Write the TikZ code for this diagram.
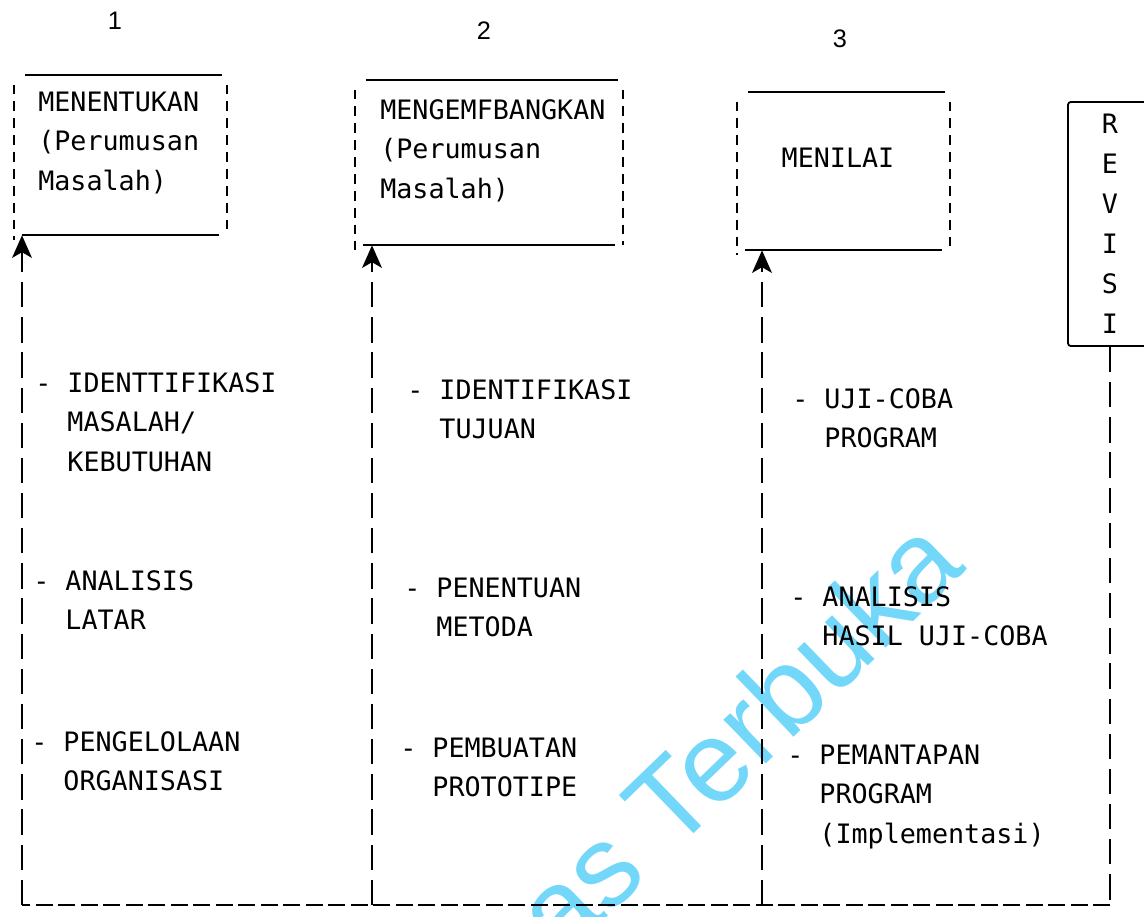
\documentclass[tikz,border=0pt]{standalone}
\usepackage{fontspec}
\setmonofont{DejaVu Sans Mono}
\newfontfamily\digitfont{Liberation Sans}
\usetikzlibrary{arrows.meta}
\definecolor{wmblue}{RGB}{115,215,250}
\newcommand{\subline}{\hphantom{-~}}

\begin{document}
\begin{tikzpicture}[x=0.025cm, y=-0.025cm,
    frame/.style={rectangle, inner sep=0pt},
    edge/.style={line width=1.2pt},
    side/.style={line width=1.5pt, dash pattern=on 7pt off 5pt},
    txt/.style={inner sep=0pt, align=left, font=\ttfamily\fontsize{19}{28}\selectfont},
    num/.style={inner sep=0pt, font=\digitfont\fontsize{18}{20}\selectfont},
    revbox/.style={draw, line width=1.3pt, rounded corners=2pt, minimum width=2.1cm, minimum height=6.1cm, align=center, font=\ttfamily\fontsize{19}{28.5}\selectfont},
    wm/.style={anchor=base, rotate=44, inner sep=0pt, text=wmblue, font=\digitfont\fontsize{82}{84}\selectfont},
    feed/.style={line width=1.9pt, dash pattern=on 18pt off 7pt},
    feedbase/.style={line width=1.5pt, dash pattern=on 12pt off 4pt},
    arrow/.style={feed, -{Stealth[length=16pt,width=14pt,inset=4pt]}}
]
\useasboundingbox (0,0) rectangle (1144,916);

% watermark behind everything
\node[wm] (wmark) at (765,765) {as Terbuka};

% step numbers
\node[num] (n1) at (115,21) {1};
\node[num] (n2) at (484,31) {2};
\node[num] (n3) at (840,39) {3};

% the three steps
\node[frame, minimum width=5.325cm, minimum height=4cm] (box1) at (120.5,155) {};
\node[frame, minimum width=6.7cm, minimum height=4.125cm] (box2) at (489,162.5) {};
\node[frame, minimum width=5.325cm, minimum height=3.95cm] (box3) at (843.5,171) {};

\foreach \b in {box1,box2,box3} {
  \draw[edge] ([xshift=8pt]\b.north west) -- ([xshift=-4pt]\b.north east);
  \draw[edge] ([xshift=6pt]\b.south west) -- ([xshift=-6pt]\b.south east);
  \draw[side] ([yshift=-7pt]\b.north west) -- ([yshift=-3pt]\b.south west);
  \draw[side] ([yshift=-7pt]\b.north east) -- (\b.south east);
}

\node[txt, anchor=base west] (t1) at (38,190) {MENENTUKAN\\(Perumusan\\Masalah)};
\node[txt, anchor=base west] (t2) at (380,198) {MENGEMFBANGKAN\\(Perumusan\\Masalah)};
\node[txt, anchor=base] (t3) at (838,167) {MENILAI};

\node[revbox] (revisi) at (1110,224) {R\\E\\V\\I\\S\\I};

% activities
\node[txt, anchor=base west] (i11) at (35,471) {-~IDENTTIFIKASI\\\subline MASALAH/\\\subline KEBUTUHAN};
\node[txt, anchor=base west] (i12) at (33,629.5) {-~ANALISIS\\\subline LATAR};
\node[txt, anchor=base west] (i13) at (31,790.5) {-~PENGELOLAAN\\\subline ORGANISASI};

\node[txt, anchor=base west] (i21) at (407,438.5) {-~IDENTIFIKASI\\\subline TUJUAN};
\node[txt, anchor=base west] (i22) at (404,636.5) {-~PENENTUAN\\\subline METODA};
\node[txt, anchor=base west] (i23) at (400,796.5) {-~PEMBUATAN\\\subline PROTOTIPE};

\node[txt, anchor=base west] (i31) at (792,447.5) {-~UJI-COBA\\\subline PROGRAM};
\node[txt, anchor=base west] (i32) at (790,645.5) {-~ANALISIS\\\subline HASIL UJI-COBA};
\node[txt, anchor=base west] (i33) at (787,843) {-~PEMANTAPAN\\\subline PROGRAM\\\subline (Implementasi)};

% revision loop
\coordinate (j1) at (22,905);
\coordinate (j2) at (372,905);
\coordinate (j3) at (762,905);
\coordinate (jr) at (revisi.south |- j1);

\draw[feed] (revisi) -- (jr);
\draw[feedbase] (jr) -- (j1);
\draw[arrow] (j1) -- (j1 |- box1.south);
\draw[arrow] (j2) -- (j2 |- box2.south);
\draw[arrow] (j3) -- (j3 |- box3.south);
\end{tikzpicture}
\end{document}
